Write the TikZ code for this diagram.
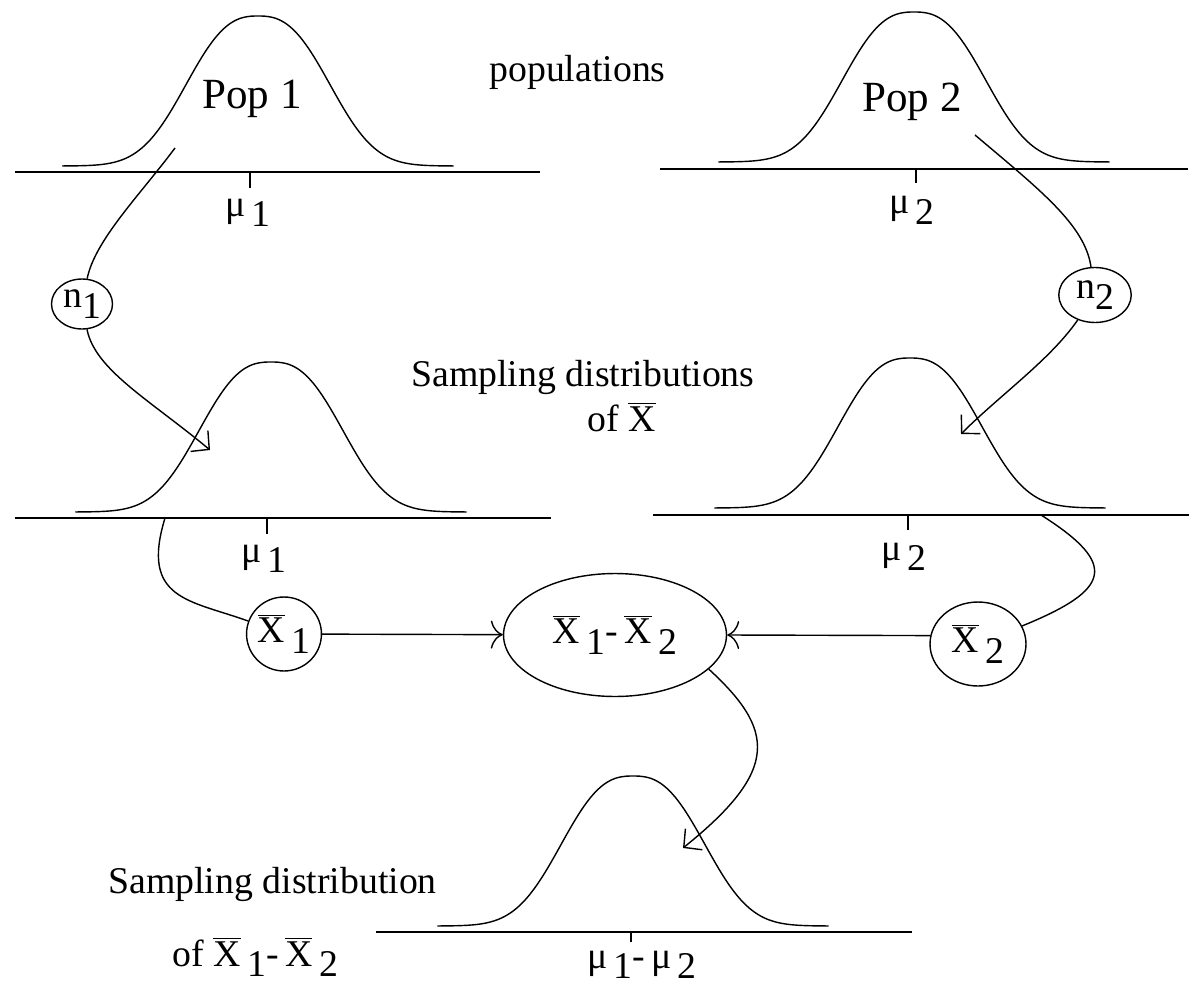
\documentclass[tikz,border=0pt]{standalone}
\usepackage{fontspec}
\setmainfont{Liberation Serif}
\usetikzlibrary{arrows.meta,shapes.geometric}
\newcommand{\lo}[1]{\raisebox{-0.6ex}{#1}}
\newcommand{\xb}{\ensuremath{\overline{\mbox{X}}}}
\newcommand{\xs}[1]{\xb\hspace{0.18em}\lo{#1}}

\begin{document}
\begin{tikzpicture}[x=0.02cm, y=-0.02cm,
  line/.style={line width=1.1pt, draw=black},
  curve/.style={line width=0.8pt, draw=black},
  label/.style={font=\fontsize{21.5}{25}\selectfont, inner sep=0pt},
  poplabel/.style={font=\fontsize{24.5}{28}\selectfont, inner sep=0pt},
  oval/.style={ellipse, draw, line width=0.8pt, inner sep=0pt, font=\fontsize{21.5}{25}\selectfont},
  link/.style={line width=0.8pt},
  barb/.style={link, -{Straight Barb[length=2.6mm, width=5.4mm]}},
  hook/.style={link, -{Computer Modern Rightarrow[length=2.4mm, width=5.6mm]}},
]

\useasboundingbox (0,0) rectangle (1196,993);

% Normal curves
\foreach \cx/\ty in {258/166, 914/162, 271/512, 910/508, 633/926} {
  \draw[curve] plot[domain=-2.25:2.25, samples=90, smooth]
    ({\cx+87*\x}, {\ty-150*exp(-(abs(\x))^2.6)});
}

% Axes and ticks
\draw[line] (15,172) -- (540,172);
\draw[line] (250,172) -- (250,188);
\draw[line] (660,169) -- (1188,169);
\draw[line] (916,169) -- (916,183);
\draw[line] (15,518) -- (551,518);
\draw[line] (267,518) -- (267,534);
\draw[line] (653,515) -- (1189,515);
\draw[line] (908,515) -- (908,530);
\draw[line] (376,932) -- (912,932);
\draw[line] (631,932) -- (631,942);

% Means
\node[label, anchor=base] (m1) at (248,216) {μ\,\lo{1}};
\node[label, anchor=base] (m2) at (912,214) {μ\,\lo{2}};
\node[label, anchor=base] (m3) at (264,562) {μ\,\lo{1}};
\node[label, anchor=base] (m4) at (904,560) {μ\,\lo{2}};
\node[label, anchor=base] (m5) at (642,968) {μ\,\lo{1}-\,μ\,\lo{2}};

% Texts
\node[poplabel, anchor=base] (pop1) at (252,109) {Pop 1};
\node[poplabel, anchor=base] (pop2) at (912,112) {Pop 2};
\node[label, anchor=base west] (pops) at (489,82) {populations};
\node[label, anchor=base west] (samp) at (411,386) {Sampling distributions};
\node[label, anchor=base west] (sampx) at (587,431) {of \xb};
\node[label, anchor=base west] (diff) at (108,893) {Sampling distribution};
\node[label, anchor=base west] (diffx) at (172,966) {of \xs{1}-\,\xs{2}};

% Sample nodes
\node[oval, minimum width=1.22cm, minimum height=1.0cm] (n1) at (82,304) {n\lo{1}};
\node[oval, minimum width=1.45cm, minimum height=1.1cm] (n2) at (1095,295) {n\lo{2}};
\node[oval, minimum width=1.48cm, minimum height=1.48cm] (X1) at (284,634) {\xs{1}};
\node[oval, minimum width=1.92cm, minimum height=1.68cm] (X2) at (978,644) {\xs{2}};
\node[oval, minimum width=4.46cm, minimum height=2.46cm] (D) at (615,635) {\xs{1}-\,\xs{2}};

\coordinate (s1) at (175,148);
\coordinate (s2) at (975,135);
\coordinate (s3) at (165,518);
\coordinate (s4) at (1041,515);
\coordinate (t1) at (210,450);
\coordinate (t2) at (961,434);
\coordinate (t3) at (683,848);

% Connectors
\draw[link] (s1) .. controls (140,195) and (95,240) .. (n1);
\draw[barb] (n1) .. controls (95,370) and (150,400) .. (t1);
\draw[link] (s2) .. controls (1040,190) and (1085,225) .. (n2);
\draw[barb] (n2) .. controls (1050,360) and (1000,395) .. (t2);
\draw[link] (s3) .. controls (140,600) and (190,600) .. (X1);
\draw[link] (s4) .. controls (1120,565) and (1110,590) .. (X2);
\draw[hook] (X1) -- (D);
\draw[hook] (X2.170) -- (D.east);
\draw[barb] (D.-20) .. controls (775,730) and (780,770) .. (t3);

\end{tikzpicture}
\end{document}
